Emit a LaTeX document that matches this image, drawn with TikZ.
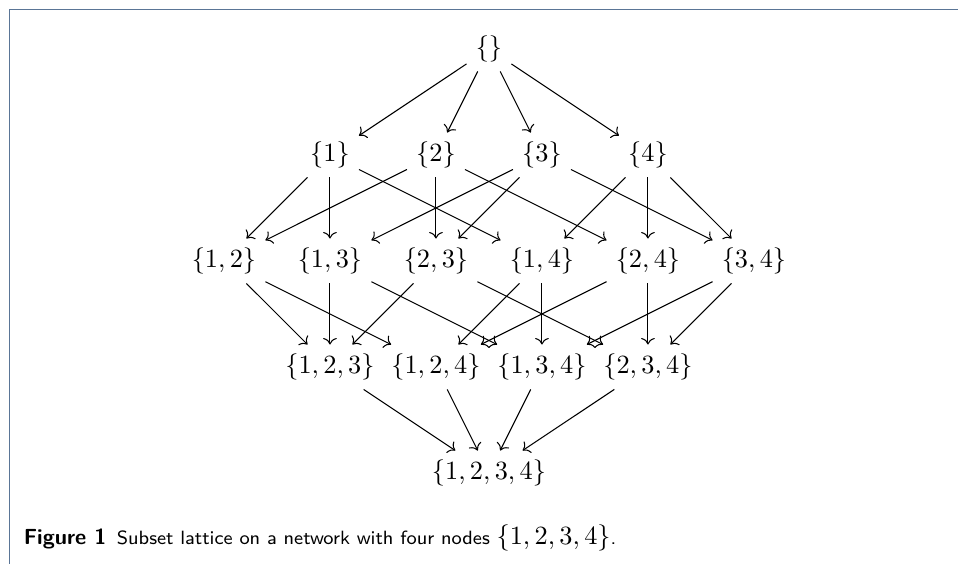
\documentclass[tikz,border=0pt]{standalone}
\usepackage{amsmath,amssymb}
\usepackage{xcolor}
\usepackage{tikz}
\usetikzlibrary{arrows.meta}
\definecolor{rule}{HTML}{5A7596}

\begin{document}
\begin{tikzpicture}[x=1.416cm,y=1.416cm,
  set/.style={font=\normalsize},
  flow/.style={->,line width=0.4pt},
  frame/.style={draw=rule,line width=0.7pt},
  caption/.style={font=\sffamily\fontsize{7.3}{9}\selectfont,anchor=base west,inner sep=0pt}]
  \useasboundingbox (-4.613,0.462) rectangle (4.425,-4.858);
  \draw[frame] (4.425,0.3726) -| (-4.524,-4.858);
  % rows of the lattice, one per size
  \node[set] (e)    at (0,0)    {$\{\}$};
  \node[set] (s1)   at (-1.5,-1) {$\{1\}$};
  \node[set] (s2)   at (-0.5,-1) {$\{2\}$};
  \node[set] (s3)   at (0.5,-1)  {$\{3\}$};
  \node[set] (s4)   at (1.5,-1)  {$\{4\}$};
  \node[set] (s12)  at (-2.5,-2) {$\{1,2\}$};
  \node[set] (s13)  at (-1.5,-2) {$\{1,3\}$};
  \node[set] (s23)  at (-0.5,-2) {$\{2,3\}$};
  \node[set] (s14)  at (0.5,-2)  {$\{1,4\}$};
  \node[set] (s24)  at (1.5,-2)  {$\{2,4\}$};
  \node[set] (s34)  at (2.5,-2)  {$\{3,4\}$};
  \node[set] (s123) at (-1.5,-3) {$\{1,2,3\}$};
  \node[set] (s124) at (-0.5,-3) {$\{1,2,4\}$};
  \node[set] (s134) at (0.5,-3)  {$\{1,3,4\}$};
  \node[set] (s234) at (1.5,-3)  {$\{2,3,4\}$};
  \node[set] (s1234) at (0,-4)   {$\{1,2,3,4\}$};
  \foreach \a/\b in {e/s1,e/s2,e/s3,e/s4,
    s1/s12,s1/s13,s1/s14,s2/s12,s2/s23,s2/s24,
    s3/s13,s3/s23,s3/s34,s4/s14,s4/s24,s4/s34,
    s12/s123,s12/s124,s13/s123,s13/s134,s23/s123,s23/s234,
    s14/s124,s14/s134,s24/s124,s24/s234,s34/s134,s34/s234,
    s123/s1234,s124/s1234,s134/s1234,s234/s1234} {\draw[flow] (\a)--(\b);}
  \node[caption] (cap) at (-4.393,-4.679)
    {{\fontsize{8.3}{10}\selectfont\textbf{Figure 1}}\hspace{4pt}Subset lattice on a network with four nodes {\normalsize$\{1,2,3,4\}$}.};
\end{tikzpicture}
\end{document}
